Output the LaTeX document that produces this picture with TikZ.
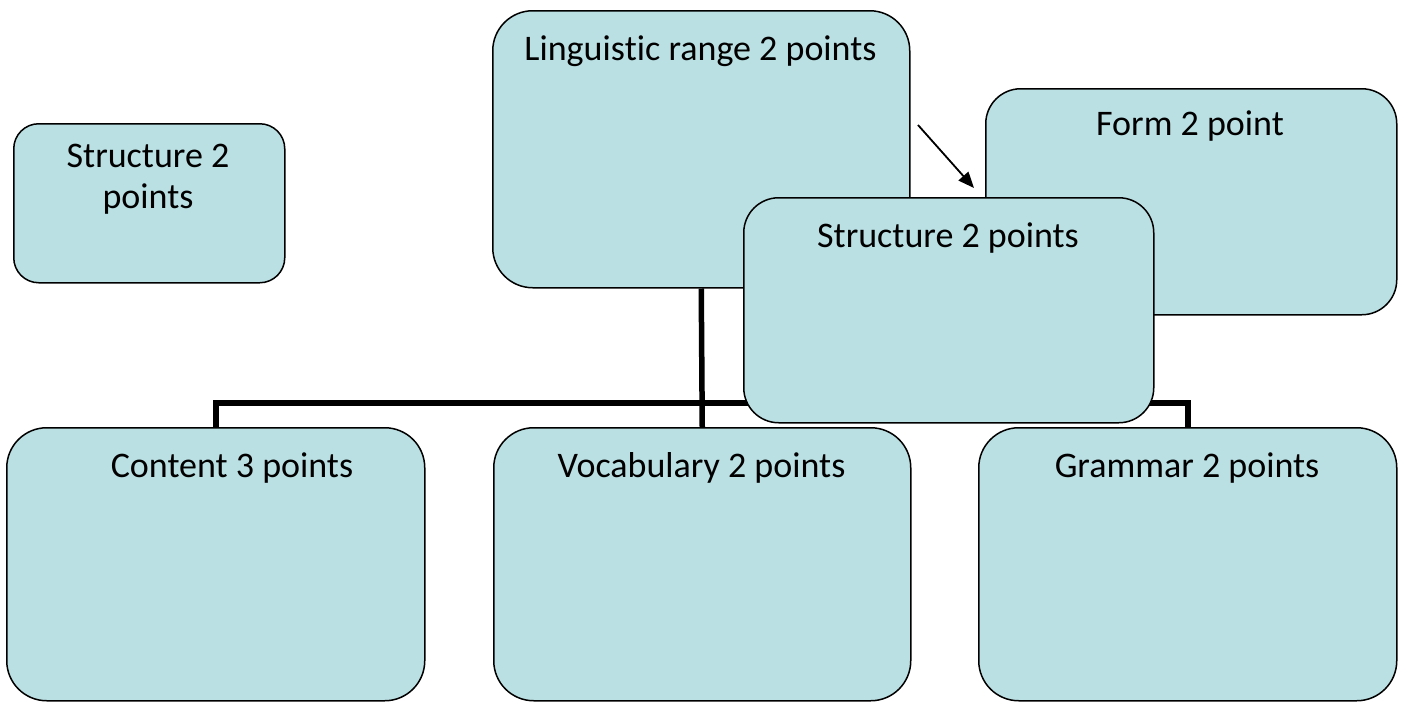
\documentclass[tikz,border=0pt]{standalone}
\usepackage{fontspec}
\setmainfont[Ligatures=NoCommon]{Carlito}
\usetikzlibrary{arrows.meta}
\definecolor{boxfill}{RGB}{186,224,227}
\tikzset{
  card/.style={draw=black, line width=1.5pt, fill=boxfill, rectangle, inner sep=0pt, anchor=north west},
  cardtext/.style={anchor=base, inner sep=0pt, font=\fontsize{36}{42}\selectfont},
  conn/.style={draw=black, line width=5.5pt},
  pointer/.style={draw=black, line width=1.8pt, -{Triangle[length=16pt,width=13pt]}}
}
\begin{document}
\begin{tikzpicture}[x=1pt,y=-1pt]
\useasboundingbox (0,0) rectangle (1401,702);
% back boxes
\node[card, rounded corners=40pt, minimum width=417pt, minimum height=277pt] (ling) at (492,10) {};
\node[cardtext] (lingt) at (700.5,60) {Linguis\kern0pt tic range 2 points};
\node[card, rounded corners=35pt, minimum width=411pt, minimum height=226pt] (form) at (985,88) {};
\node[cardtext] (formt) at (1190,135) {Form 2 point};
% lower boxes
\node[card, rounded corners=40pt, minimum width=418pt, minimum height=273pt] (cont) at (6,427) {};
\node[cardtext] (contt) at (232,477) {Content 3 points};
\node[card, rounded corners=40pt, minimum width=417pt, minimum height=273pt] (voc) at (493,427) {};
\node[cardtext] (voct) at (701.5,477) {Vocabulary 2 points};
\node[card, rounded corners=40pt, minimum width=418pt, minimum height=273pt] (gram) at (978,427) {};
\node[cardtext] (gramt) at (1187,477) {Grammar 2 points};
% connectors
\draw[conn] (ling.south) -- (voc.north);
\draw[conn] (cont.north) -- ++(0,-24) -| (gram.north);
% front middle box
\node[card, rounded corners=35pt, minimum width=410pt, minimum height=225pt] (mid) at (743,197) {};
\node[cardtext] (midt) at (948,247) {Structure 2 points};
% left box
\node[card, rounded corners=25pt, minimum width=271pt, minimum height=159pt] (left) at (13,123) {};
\node[cardtext] (leftt1) at (148,167) {Structure 2};
\node[cardtext] (leftt2) at (148,208) {points};
% arrow
\coordinate (as) at (918,125);
\coordinate (ae) at (974,188);
\draw[pointer] (as) -- (ae);
\end{tikzpicture}
\end{document}
